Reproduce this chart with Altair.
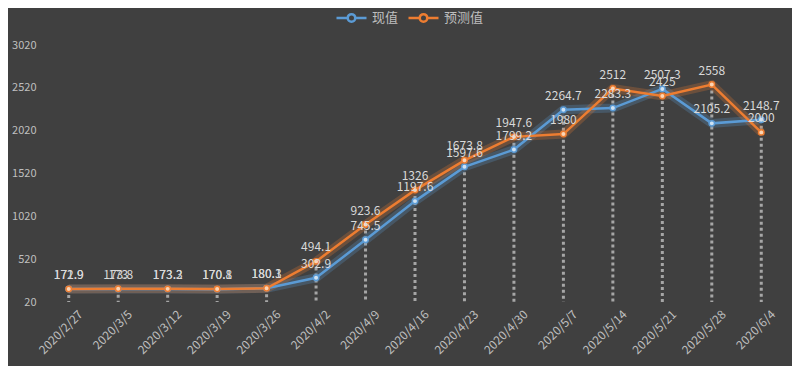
import altair as alt
import pandas as pd

dates = ["2020/2/27", "2020/3/5", "2020/3/12", "2020/3/19", "2020/3/26", "2020/4/2",
         "2020/4/9", "2020/4/16", "2020/4/23", "2020/4/30", "2020/5/7", "2020/5/14",
         "2020/5/21", "2020/5/28", "2020/6/4"]
actual = [171.9, 173.0, 173.2, 170.1, 180.1, 302.9, 745.5, 1197.6, 1597.6, 1799.2,
          2264.7, 2283.3, 2507.3, 2105.2, 2148.7]
predicted = [172.9, 173.8, 173.3, 170.8, 180.3, 494.1, 923.6, 1326, 1673.8, 1947.6,
             1980, 2512, 2425, 2558, 2000]
series = ["现值", "预测值"]
colors = ["#5b9bd5", "#ed7d31"]
light_colors = ["#cfe2f3", "#fbd5b5"]
y_ticks = [20, 520, 1020, 1520, 2020, 2520, 3020]

rows = []
for name, vals in zip(series, [actual, predicted]):
    for d, v in zip(dates, vals):
        rows.append({"date": d, "series": name, "value": v, "label": f"{v:g}"})
df = pd.DataFrame(rows)
drop_df = pd.DataFrame({"date": dates, "top": [max(a, p) for a, p in zip(actual, predicted)]})

FONT = "Noto Sans CJK SC"
TXT = "#bfbfbf"

x = alt.X("date:O", sort=dates, title=None,
          axis=alt.Axis(labelAngle=-45, labelColor=TXT, labelFontSize=12, labelFont=FONT,
                        domain=False, ticks=False, grid=False, labelPadding=10, labelOffset=12))
y = alt.Y("value:Q", title=None,
          scale=alt.Scale(domain=[20, 3020], nice=False, zero=False),
          axis=alt.Axis(values=y_ticks, format="d", grid=False, domain=False, ticks=False,
                        labelColor=TXT, labelFontSize=11, labelFont=FONT, labelPadding=8))

legend = alt.Legend(
    title=None, orient="none", legendX=291, legendY=-44,
    direction="horizontal",
    symbolType="M-1,0L-0.25,0M0.25,0L1,0M-0.25,0A0.25,0.25,0,1,0,0.25,0A0.25,0.25,0,1,0,-0.25,0Z",
    symbolSize=900, symbolStrokeWidth=2.5, symbolOpacity=1,
    labelColor=TXT, labelFontSize=13, labelFont=FONT,
    labelOffset=4, columnPadding=4)
color_enc = alt.Color("series:N", scale=alt.Scale(domain=series, range=colors),
                      sort=series, legend=legend)

base = alt.Chart(df)

drop = alt.Chart(drop_df).mark_rule(strokeDash=[3, 3], strokeWidth=3, color="#a6a6a6").encode(
    x=alt.X("date:O", sort=dates),
    y="top:Q",
    y2=alt.datum(20),
)

glow = base.mark_line(strokeWidth=9, opacity=0.25).encode(x=x, y=y, color=color_enc)

line = base.mark_line(strokeWidth=2.5).encode(x=x, y=y, color=color_enc)

pts = base.mark_point(shape="circle", filled=False, size=30, strokeWidth=1.5, opacity=1).encode(
    x=x, y=y,
    stroke=alt.Stroke("series:N", scale=alt.Scale(domain=series, range=colors), legend=None),
    fill=alt.Fill("series:N", scale=alt.Scale(domain=series, range=light_colors), legend=None),
)

labels = base.mark_text(dy=-14, fontSize=12, font=FONT, color="#d9d9d9").encode(
    x=x, y=y, text="label:N")

chart = alt.layer(drop, glow, line, pts, labels).properties(
    width=742, height=257,
    autosize=alt.AutoSizeParams(type="none"),
    padding={"left": 36, "top": 37, "right": 6, "bottom": 64},
    background="#404040",
).resolve_scale(fill="independent", stroke="independent").configure_view(stroke=None)

chart.save("out.html", embed_options={"renderer": "svg", "actions": False})
